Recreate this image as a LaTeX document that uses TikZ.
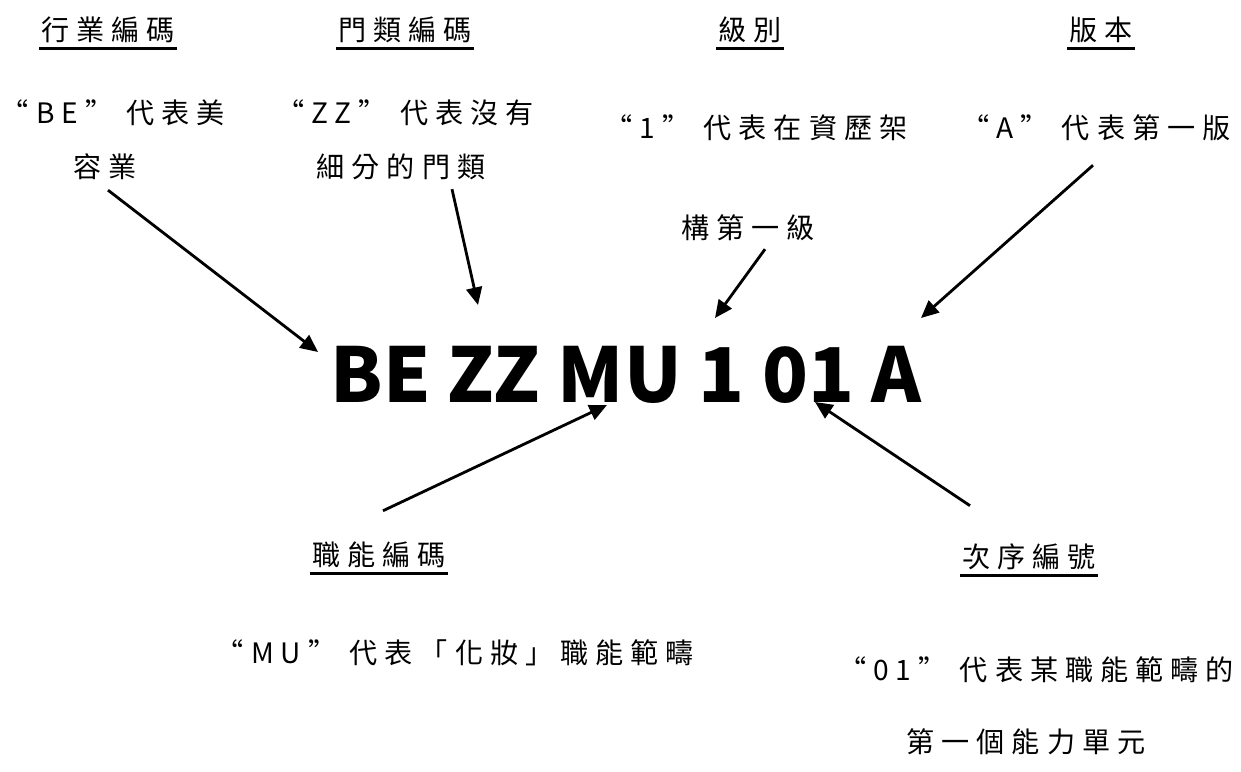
\documentclass[tikz,border=0pt]{standalone}
\usepackage{fontspec}
\setmainfont{Noto Sans CJK TC}
\newfontfamily\spacedfont{Noto Sans CJK TC}[LetterSpace=25]
\usetikzlibrary{arrows.meta,positioning}
\tikzstyle{headNode} = [inner xsep=1pt, inner ysep=2.8pt, font=\spacedfont\fontsize{16}{18}\selectfont]
\tikzstyle{descNode} = [inner sep=1pt, font=\spacedfont\fontsize{16}{18}\selectfont]
\tikzstyle{codeNode} = [inner sep=0pt, font=\bfseries\fontsize{43}{45}\selectfont]
\tikzstyle{uline} = [line width=1.5pt]
\tikzstyle{arrowK} = [line width=1.6pt,-{Triangle[length=10pt,width=9pt]}]

\begin{document}
\begin{tikzpicture}[x=0.02cm,y=-0.02cm]
        \useasboundingbox (0,0) rectangle (1241,771);
        % headings
        \node (hInd) [headNode] at (108,30) {行業編碼};
        \node (hCat) [headNode] at (405,30) {門類編碼};
        \node (hLvl) [headNode] at (750,30) {級別};
        \node (hVer) [headNode] at (1101,30) {版本};
        \node (hFun) [headNode] at (379,555) {職能編碼};
        \node (hSeq) [headNode] at (1029,557) {次序編號};
        \foreach \n in {hInd,hCat,hLvl,hVer,hFun,hSeq}
            \draw [uline] (\n.south west) -- (\n.south east);
        
        % descriptions
        \node (dInd1) [descNode] at (113,113) {“BE” 代表美};
        \node (dInd2) [descNode] at (105,167) {容業};
        \node (dCat1) [descNode] at (405,113) {“ZZ” 代表沒有};
        \node (dCat2) [descNode] at (401,167) {細分的門類};
        \node (dLvl1) [descNode] at (756,128) {“1” 代表在資歷架};
        \node (dLvl2) [descNode] at (748,228) {構第一級};
        \node (dVer) [descNode] at (1096,128) {“A” 代表第一版};
        \node (dFun) [descNode] at (455,653) {“MU” 代表「化妝」職能範疇};
        \node (dSeq1) [descNode] at (1036,670) {“01” 代表某職能範疇的};
        \node (dSeq2) [descNode] at (1026,742) {第一個能力單元};
        
        % the code
        \node (code) [codeNode] at (626,375) {BE ZZ MU 1 01 A};
        \coordinate (tBE) at (318,352);
        \coordinate (tZZ) at (478,305);
        \coordinate (tOne) at (715,318);
        \coordinate (tA) at (921,318);
        \coordinate (tMU) at (607,405);
        \coordinate (tNo) at (815,402);
        
        \draw [arrowK] ([shift={(3,8)}]dInd2.south) -- (tBE);
        \draw [arrowK] ([shift={(51,7)}]dCat2.south) -- (tZZ);
        \draw [arrowK] ([shift={(17,6)}]dLvl2.south) -- (tOne);
        \draw [arrowK] ([shift={(-3,22)}]dVer.south) -- (tA);
        \draw [arrowK] ([shift={(4,-26)}]hFun.north) -- (tMU);
        \draw [arrowK] ([shift={(-59,-33)}]hSeq.north) -- (tNo);
\end{tikzpicture}
\end{document}
